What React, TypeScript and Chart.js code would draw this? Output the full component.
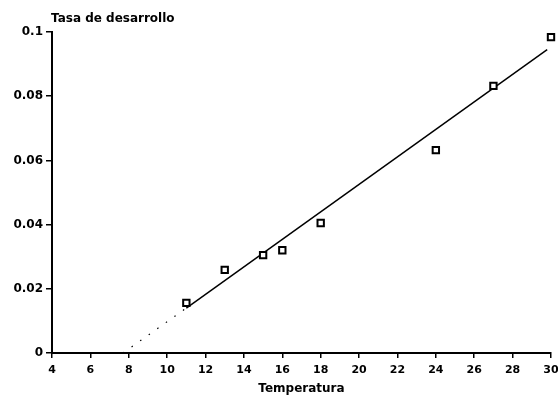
import React, { useEffect, useRef } from "react";
import { Chart, registerables } from "chart.js";

Chart.register(...registerables);

const temperatures = [11, 13, 15, 16, 18, 24, 27, 30];
const rates = [0.0156, 0.0259, 0.0305, 0.032, 0.0405, 0.0632, 0.0832, 0.0984];
const fitX = [11, 29.8];
const fitY = [0.014, 0.0945];
const extX = [7.7, 11];
const extY = [0, 0.014];
const yTitle = "Tasa de desarrollo";
const xTitle = "Temperatura";

const FONT = "'DejaVu Sans', sans-serif";

const titlePlugin = {
  id: "topTitle",
  afterDraw(chart: any) {
    const ctx = chart.ctx;
    ctx.save();
    ctx.font = `bold 12px ${FONT}`;
    ctx.fillStyle = "#000";
    ctx.textAlign = "left";
    ctx.textBaseline = "middle";
    ctx.fillText(yTitle, chart.chartArea.left - 1, 19);
    ctx.restore();
  },
};

export default function App() {
  const ref = useRef<HTMLCanvasElement>(null);
  useEffect(() => {
    const chart = new Chart(ref.current!, {
      type: "scatter",
      data: {
        datasets: [
          {
            data: temperatures.map((t, i) => ({ x: t, y: rates[i] })),
            pointStyle: "rect",
            pointRadius: 4.5,
            pointBorderWidth: 2,
            pointBorderColor: "#000",
            pointBackgroundColor: "#fff",
            showLine: false,
            clip: false,
          },
          {
            data: fitX.map((x, i) => ({ x, y: fitY[i] })),
            showLine: true,
            borderColor: "#000",
            borderWidth: 1.5,
            pointRadius: 0,
          },
          {
            data: extX.map((x, i) => ({ x, y: extY[i] })),
            showLine: true,
            borderColor: "#000",
            borderWidth: 1.2,
            borderDash: [1.5, 9],
            pointRadius: 0,
          },
        ],
      },
      options: {
        animation: false,
        responsive: false,
        layout: { padding: { top: 32, right: 0, left: 0, bottom: 0 } },
        plugins: { legend: { display: false }, tooltip: { enabled: false } },
        scales: {
          x: {
            type: "linear",
            min: 4,
            max: 30,
            afterFit: (s: any) => {
              s.height = 43;
              s.paddingRight = 7;
            },
            ticks: {
              stepSize: 2,
              color: "#000",
              font: { family: FONT, weight: "bold", size: 11 },
              padding: 6,
              maxRotation: 0,
            },
            grid: {
              drawOnChartArea: false,
              drawTicks: true,
              tickLength: 5,
              color: "#000",
              lineWidth: 1.5,
            },
            border: { display: true, color: "#000", width: 2 },
            title: {
              display: true,
              text: xTitle,
              color: "#000",
              font: { family: FONT, weight: "bold", size: 12 },
              padding: { top: 0, bottom: 0 },
            },
          },
          y: {
            type: "linear",
            min: 0,
            max: 0.1,
            afterFit: (s: any) => {
              s.width = 52;
            },
            ticks: {
              stepSize: 0.02,
              color: "#000",
              font: { family: FONT, weight: "bold", size: 12 },
              padding: 3,
              callback: (v: any) => String(Number(Number(v).toFixed(2))),
            },
            grid: {
              drawOnChartArea: false,
              drawTicks: true,
              tickLength: 6,
              color: "#000",
              lineWidth: 1.5,
            },
            border: { display: true, color: "#000", width: 2 },
          },
        },
      },
      plugins: [titlePlugin],
    });
    return () => chart.destroy();
  }, []);
  return (
    <div style={{ position: "absolute", left: 0, top: 0, width: 558, height: 396, background: "#fff" }}>
      <canvas ref={ref} width={558} height={396} style={{ width: 558, height: 396 }} />
    </div>
  );
}
